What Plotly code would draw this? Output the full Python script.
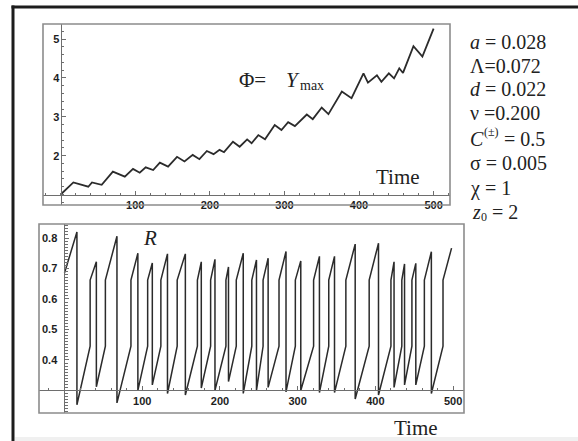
import plotly.graph_objects as go

W, H = 578, 441


def px(x):
    return x / W


def py(y):
    return 1 - y / H


# ---------------- data: top panel  (Phi = Y_max vs Time) ----------------
phi_t = [0, 17, 37, 42, 55, 70, 86, 97, 106, 114, 124, 133, 144, 156, 166, 177, 186,
         196, 205, 213, 219, 231, 240, 250, 256, 265, 274, 287, 296, 305, 314, 330,
         338, 350, 359, 377, 390, 406, 412, 424, 430, 440, 447, 454, 459, 473, 485, 500]
phi_v = [1.00, 1.31, 1.20, 1.31, 1.25, 1.59, 1.46, 1.66, 1.56, 1.70, 1.63, 1.82, 1.72,
         1.97, 1.85, 2.02, 1.91, 2.12, 2.04, 2.15, 2.09, 2.36, 2.23, 2.42, 2.32, 2.53,
         2.42, 2.79, 2.66, 2.86, 2.76, 3.06, 2.94, 3.24, 3.07, 3.65, 3.48, 4.12, 3.88,
         4.07, 3.90, 4.12, 3.99, 4.25, 4.13, 4.82, 4.55, 5.27]

# ---------------- data: bottom panel  (R vs Time, sawtooth) ----------------
r_start_t, r_start_v = 0, 0.685
r_drop_t = [16, 41, 67.5, 94.4, 113, 132.5, 155.5, 176, 193.6, 211, 230, 247, 262, 285,
            304, 328, 347.4, 374, 404, 424, 437.5, 452, 472]
r_peak = [0.82, 0.722, 0.806, 0.75, 0.718, 0.748, 0.748, 0.722, 0.73, 0.705, 0.75, 0.728,
          0.734, 0.756, 0.725, 0.74, 0.74, 0.78, 0.783, 0.722, 0.715, 0.717, 0.755]
r_min = [0.253, 0.312, 0.259, 0.30, 0.318, 0.29, 0.285, 0.308, 0.30, 0.329, 0.29, 0.30,
         0.31, 0.295, 0.30, 0.293, 0.293, 0.272, 0.285, 0.31, 0.318, 0.318, 0.29]
r_jump_t = [33, 52.6, 85.5, 107, 124, 145, 171, 188, 207.7, 221, 241, 255.5, 276, 297,
            320.5, 340, 362, 392, 420, 434, 447, 463, 487]
r_jump_lo = [0.445, 0.445, 0.445, 0.445, 0.445, 0.445, 0.445, 0.445, 0.445, 0.445, 0.445,
             0.445, 0.445, 0.445, 0.445, 0.445, 0.445, 0.445, 0.445, 0.445, 0.445, 0.445, 0.445]
r_jump_hi = [0.662, 0.662, 0.662, 0.662, 0.662, 0.662, 0.662, 0.662, 0.662, 0.662, 0.662,
             0.662, 0.662, 0.662, 0.662, 0.662, 0.662, 0.662, 0.662, 0.662, 0.662, 0.662, 0.662]
r_end_t, r_end_v = 498, 0.767

top_xticks = [100, 200, 300, 400, 500]
top_yticks = [2, 3, 4, 5]
bot_xticks = [100, 200, 300, 400, 500]
bot_yticks = [0.4, 0.5, 0.6, 0.7, 0.8]
bot_yticktext = ["0.4", "0.5", "0.6", "0.7", "0.8"]

# build R polyline
r_x = [r_start_t]
r_y = [r_start_v]
for i in range(len(r_drop_t)):
    r_x += [r_drop_t[i], r_drop_t[i], r_jump_t[i], r_jump_t[i]]
    r_y += [r_peak[i], r_min[i], r_jump_lo[i], r_jump_hi[i]]
r_x.append(r_end_t)
r_y.append(r_end_v)

# ---------------- geometry ----------------
top_xr = [-23.7, 522]
top_yr = [0.73, 5.39]
top_dx = [px(43), px(450)]
top_dy = [py(205), py(24)]

bot_xr = [-32.8, 514]
bot_yr = [0.226, 0.846]
bot_dx = [px(39), px(464)]
bot_dy = [py(413), py(224)]


def frac(v, r, d):
    return d[0] + (v - r[0]) / (r[1] - r[0]) * (d[1] - d[0])


serif = "Liberation Serif, Times New Roman, serif"
tickfont = dict(family="Liberation Sans, Arial, sans-serif", size=11, color="#1e1e1e", weight="bold")
axcol = "#6e6e6e"

fig = go.Figure()
fig.add_trace(go.Scatter(x=phi_t, y=phi_v, mode="lines", xaxis="x", yaxis="y",
                         line=dict(color="#2b2b2b", width=1.8), showlegend=False,
                         hoverinfo="skip"))
fig.add_trace(go.Scatter(x=r_x, y=r_y, mode="lines", xaxis="x2", yaxis="y2",
                         line=dict(color="#2b2b2b", width=1.5), showlegend=False,
                         hoverinfo="skip"))

common = dict(showgrid=False, zeroline=False, showline=True, linecolor=axcol, linewidth=1,
              ticks="inside", ticklen=4, tickcolor=axcol, tickfont=tickfont,
              anchor="free", fixedrange=True)

fig.update_layout(
    width=W, height=H, autosize=False,
    margin=dict(l=0, r=0, t=0, b=0),
    paper_bgcolor="white", plot_bgcolor="rgba(0,0,0,0)",
    xaxis=dict(domain=top_dx, range=top_xr, tickvals=top_xticks,
               position=frac(1, top_yr, top_dy),
               minor=dict(ticks="inside", ticklen=2, dtick=20, tick0=0, tickcolor=axcol),
               **common),
    yaxis=dict(domain=top_dy, range=top_yr, tickvals=top_yticks,
               position=frac(0, top_xr, top_dx), ticklabelstandoff=-1,
               minor=dict(ticks="inside", ticklen=2, dtick=0.2, tick0=0, tickcolor=axcol),
               **common),
    xaxis2=dict(domain=bot_dx, range=bot_xr, tickvals=bot_xticks,
                position=frac(0.3, bot_yr, bot_dy),
                minor=dict(ticks="inside", ticklen=2, dtick=20, tick0=0, tickcolor=axcol),
                **common),
    yaxis2=dict(domain=bot_dy, range=bot_yr, tickvals=bot_yticks, ticktext=bot_yticktext,
                position=frac(0, bot_xr, bot_dx), ticklabelstandoff=5,
                minor=dict(ticks="inside", ticklen=3, dtick=0.01, tick0=0, tickcolor=axcol),
                **common),
)

shapes = []
# panel frames
for dx, dy in [(top_dx, top_dy), (bot_dx, bot_dy)]:
    shapes.append(dict(type="rect", xref="paper", yref="paper", x0=dx[0], x1=dx[1],
                       y0=dy[0], y1=dy[1], line=dict(color="#8c8c8c", width=1.6)))
# outer black border (left and top)
shapes.append(dict(type="line", xref="paper", yref="paper", x0=px(13), x1=px(13),
                   y0=0, y1=py(5.5), line=dict(color="#1c1c1c", width=3)))
shapes.append(dict(type="line", xref="paper", yref="paper", x0=px(11.5), x1=1,
                   y0=py(7), y1=py(7), line=dict(color="#1c1c1c", width=3)))
# faint grey band at bottom edge
shapes.append(dict(type="rect", xref="paper", yref="paper", x0=px(15), x1=1,
                   y0=0, y1=py(437), line=dict(width=0), fillcolor="#f0f0f0"))
fig.update_layout(shapes=shapes)

ann = []


def add_text(text, x, y, size, xanchor="left", italic=False):
    f = dict(family=serif, size=size, color="#222")
    if italic:
        f["style"] = "italic"
    ann.append(dict(text=text, x=px(x), y=py(y), xref="paper", yref="paper",
                    xanchor=xanchor, yanchor="middle", showarrow=False, font=f))


# Phi = Y_max (subscript drawn as its own small label)
add_text("Φ=", 237, 80, 21)
add_text("Y", 284, 80, 21, italic=True)
add_text("max", 298, 85, 14)
add_text("Time", 398, 177, 21, xanchor="center")
add_text("R", 150, 238, 21, xanchor="center", italic=True)
add_text("Time", 416, 428, 21, xanchor="center")

# parameter list
add_text("<i>a</i> = 0.028", 468, 42, 20)
add_text("Λ=0.072", 468, 66, 20)
add_text("<i>d</i> = 0.022", 468, 89, 20)
add_text("ν =0.200", 468, 113, 20)
add_text("C", 468, 139, 20, italic=True)
add_text("(±)", 482, 132, 12)
add_text("= 0.5", 502, 139, 20)
add_text("σ = 0.005", 468, 163, 20)
add_text("χ = 1", 468, 188, 20)
add_text("z", 470, 212, 20, italic=True)
add_text("0", 479, 217, 12)
add_text("= 2", 490, 212, 20)

fig.update_layout(annotations=ann)

fig.write_html("out.html")
